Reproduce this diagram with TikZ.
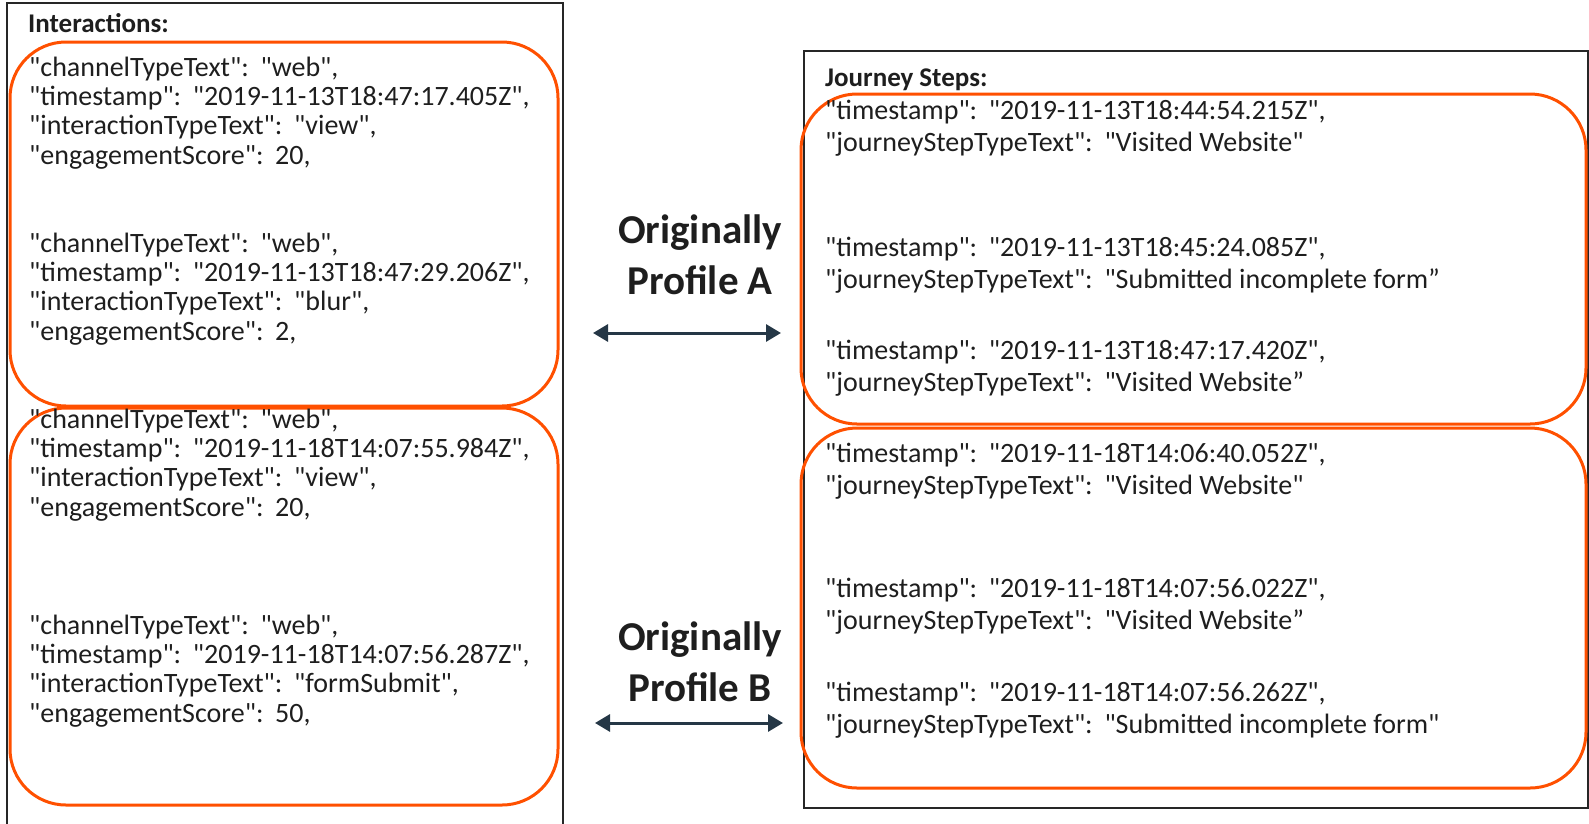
\documentclass[tikz,border=0pt]{standalone}
\usepackage{fontspec}
\setmainfont{Carlito}[Ligatures=TeXOff]
\usetikzlibrary{arrows.meta}
\definecolor{orng}{HTML}{FF5000}
\definecolor{navy}{HTML}{253746}
\definecolor{frame}{HTML}{262626}
\definecolor{ink}{HTML}{1E1E1E}
\newcommand{\dsp}{\hspace{0.42em}}
\tikzset{
  panel/.style={draw=frame, line width=2pt},
  grp/.style={draw=orng, line width=3pt, rounded corners=56pt},
  ltxt/.style={anchor=base west, inner sep=0pt, align=left, font=\fontsize{28}{29.3}\selectfont, text=ink},
  rtxt/.style={anchor=base west, inner sep=0pt, align=left, font=\fontsize{28}{31.6}\selectfont, text=ink},
  head/.style={anchor=base west, inner sep=0pt, font=\fontsize{27}{30}\selectfont\bfseries, text=ink},
  mid/.style={inner sep=0pt, align=center, font=\fontsize{41}{51}\selectfont\bfseries, text=ink},
  link/.style={draw=navy, line width=3pt, {Triangle[width=17pt,length=15pt]}-{Triangle[width=17pt,length=15pt]}}
}
\begin{document}
\begin{tikzpicture}[x=1pt,y=-1pt]
\useasboundingbox (0,0) rectangle (1589,823);
\clip (0,0) rectangle (1589,823);
% panels
\draw[panel] (7,3) rectangle (563,840);
\draw[panel] (804,51) rectangle (1588,808);
% orange groups
\draw[grp] (10,42) rectangle (558,406);
\draw[grp] (10,408) rectangle (558,805);
\draw[grp] (801,94) rectangle (1586,424);
\draw[grp] (801,428) rectangle (1586,788);
% headings
\node[head] (hI) at (28,32) {Interactions:};
\node[head] (hJ) at (825,86) {Journey Steps:};
% left text (anchor = baseline of the last line)
\node[ltxt] (l1) at (29,164) {"channelTypeText":\dsp"web",\\"timestamp":\dsp"2019-11-13T18:47:17.405Z",\\"interactionTypeText":\dsp"view",\\"engagementScore":\dsp20,};
\node[ltxt] (l2) at (29,340) {"channelTypeText":\dsp"web",\\"timestamp":\dsp"2019-11-13T18:47:29.206Z",\\"interactionTypeText":\dsp"blur",\\"engagementScore":\dsp2,};
\node[ltxt] (l3) at (29,516) {"channelTypeText":\dsp"web",\\"timestamp":\dsp"2019-11-18T14:07:55.984Z",\\"interactionTypeText":\dsp"view",\\"engagementScore":\dsp20,};
\node[ltxt] (l4) at (29,722) {"channelTypeText":\dsp"web",\\"timestamp":\dsp"2019-11-18T14:07:56.287Z",\\"interactionTypeText":\dsp"formSubmit",\\"engagementScore":\dsp50,};
% right text
\node[rtxt] (r1) at (825,151) {"timestamp":\dsp"2019-11-13T18:44:54.215Z",\\"journeyStepTypeText":\dsp"Visited Website"};
\node[rtxt] (r2) at (825,288) {"timestamp":\dsp"2019-11-13T18:45:24.085Z",\\"journeyStepTypeText":\dsp"Submitted incomplete form”};
\node[rtxt] (r3) at (825,391) {"timestamp":\dsp"2019-11-13T18:47:17.420Z",\\"journeyStepTypeText":\dsp"Visited Website”};
\node[rtxt] (r4) at (825,494) {"timestamp":\dsp"2019-11-18T14:06:40.052Z",\\"journeyStepTypeText":\dsp"Visited Website"};
\node[rtxt] (r5) at (825,629) {"timestamp":\dsp"2019-11-18T14:07:56.022Z",\\"journeyStepTypeText":\dsp"Visited Website”};
\node[rtxt] (r6) at (825,733) {"timestamp":\dsp"2019-11-18T14:07:56.262Z",\\"journeyStepTypeText":\dsp"Submitted incomplete form"};
% middle labels
\node[mid] (mA) at (700,255) {Originally\\Profile A};
\node[mid] (mB) at (700,662) {Originally\\Profile B};
% arrows
\coordinate (aL) at (593,333);
\coordinate (aR) at (781,333);
\coordinate (bL) at (595,723);
\coordinate (bR) at (783,723);
\draw[link] (aL) -- (aR);
\draw[link] (bL) -- (bR);
\end{tikzpicture}
\end{document}
